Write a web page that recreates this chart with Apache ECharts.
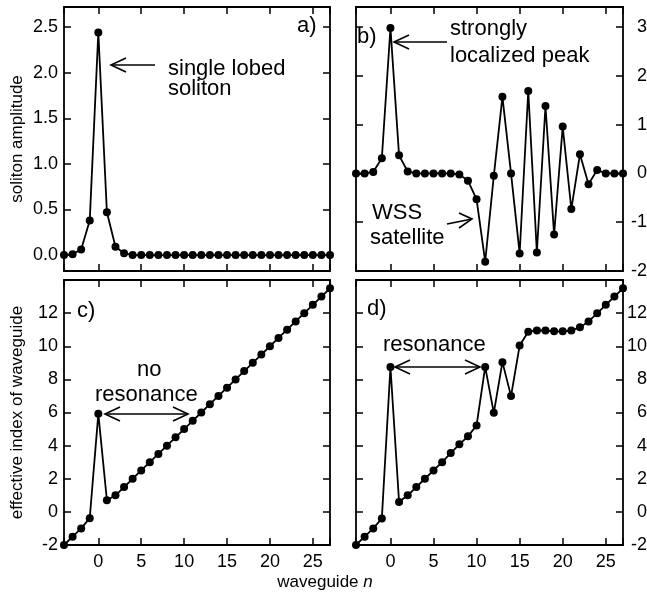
<!DOCTYPE html>
<html>
<head>
<meta charset="utf-8">
<script src="https://cdn.jsdelivr.net/npm/echarts@6/dist/echarts.min.js"></script>
<style>
  html, body { margin: 0; padding: 0; background: #fff; }
  #main { width: 647px; height: 592px; }
</style>
</head>
<body>
<div id="main"></div>
<script>
// waveguide number n
const waveguide = [-4, -3, -2, -1, 0, 1, 2, 3, 4, 5, 6, 7, 8, 9, 10, 11, 12, 13, 14, 15, 16, 17, 18, 19, 20, 21, 22, 23, 24, 25, 26, 27];
// a) soliton amplitude, single lobed
const ampA = [0, 0.01, 0.06, 0.38, 2.44, 0.47, 0.09, 0.02, 0, 0, 0, 0, 0, 0, 0, 0, 0, 0, 0, 0, 0, 0, 0, 0, 0, 0, 0, 0, 0, 0, 0, 0];
// b) soliton amplitude with WSS satellite
const ampB = [0, 0, 0.03, 0.31, 2.98, 0.37, 0.04, 0, 0, 0, 0, 0, -0.02, -0.15, -0.53, -1.81, -0.05, 1.57, 0, -1.64, 1.69, -1.62, 1.38, -1.25, 0.96, -0.73, 0.39, -0.22, 0.07, 0, 0, 0];
// c) effective index, no resonance
const indexC = [-2, -1.5, -1, -0.38, 5.92, 0.7, 1, 1.5, 2, 2.5, 3, 3.5, 4, 4.5, 5, 5.5, 6, 6.5, 7, 7.5, 8, 8.5, 9, 9.5, 10, 10.5, 11, 11.5, 12, 12.5, 13, 13.5];
// d) effective index, resonance
const indexD = [-2, -1.5, -1, -0.4, 8.75, 0.6, 1, 1.5, 2, 2.5, 3, 3.55, 4.08, 4.56, 5.22, 8.75, 5.98, 9.04, 6.99, 10.04, 10.88, 10.95, 10.95, 10.9, 10.9, 10.95, 11.14, 11.5, 11.99, 12.5, 13, 13.5];

const xTickLabels = [0, 5, 10, 15, 20, 25];
const ampTickLabels = [0, 0.5, 1, 1.5, 2, 2.5];
const ampBTickLabels = [-2, -1, 0, 1, 2, 3];
const indexTickLabels = [-2, 0, 2, 4, 6, 8, 10, 12];

const FONT = "'Liberation Sans', Arial, Helvetica, sans-serif";

function pairs(ys) {
  return waveguide.map((n, i) => [n, ys[i]]);
}

const frame = {
  axisLine: { onZero: false, lineStyle: { color: '#000', width: 1.8 } },
  axisTick: { inside: true, length: 7, lineStyle: { color: '#000', width: 1.5 } },
  splitLine: { show: false }
};

function xAxis(gi, pos, labels) {
  return Object.assign({
    type: 'value', gridIndex: gi, position: pos,
    min: -4, max: 27, minInterval: 5, maxInterval: 5,
    axisLabel: {
      show: !!labels, margin: 8, color: '#000', fontSize: 18, fontFamily: FONT,
      formatter: v => (labels && labels.indexOf(v) >= 0) ? String(v) : ''
    }
  }, frame);
}

function yAxis(gi, pos, range, labels, fmt, extra) {
  return Object.assign({
    type: 'value', gridIndex: gi, position: pos,
    min: range[0], max: range[1],
    axisLabel: {
      show: !!labels, color: '#000', fontSize: 18, fontFamily: FONT,
      margin: pos === 'left' ? 6 : 24, align: 'right',
      formatter: v => (labels && labels.some(t => Math.abs(t - v) < 1e-9)) ? fmt(v) : ''
    }
  }, frame, extra || {});
}

const ampRange = [-0.175, 2.72];
const ampBRange = [-2, 3.41];
const idxRange = [-2, 14];

const nameStyle = { color: '#000', fontSize: 17, fontFamily: FONT };

function line(xi, yi, ys) {
  return {
    type: 'line', xAxisIndex: xi, yAxisIndex: yi, data: pairs(ys),
    symbol: 'circle', symbolSize: 8, clip: false,
    itemStyle: { color: '#000' },
    lineStyle: { color: '#000', width: 1.8 },
    animation: false
  };
}

function txt(x, y, s) {
  return { type: 'text', x: x, y: y, style: { text: s, fill: '#000', font: '22px ' + FONT, align: 'left', verticalAlign: 'middle' } };
}
function arrow(pts) {
  return { type: 'polyline', shape: { points: pts }, style: { stroke: '#000', lineWidth: 1.6, fill: null } };
}

const option = {
  backgroundColor: '#fff',
  animation: false,
  grid: [
    { left: 64, top: 7, width: 266, height: 264, containLabel: false, outerBoundsMode: 'none' },
    { left: 356, top: 7, width: 267, height: 264, containLabel: false, outerBoundsMode: 'none' },
    { left: 64, top: 280, width: 266, height: 265, containLabel: false, outerBoundsMode: 'none' },
    { left: 356, top: 280, width: 267, height: 265, containLabel: false, outerBoundsMode: 'none' }
  ],
  xAxis: [
    xAxis(0, 'bottom', null), xAxis(0, 'top', null),
    xAxis(1, 'bottom', null), xAxis(1, 'top', null),
    xAxis(2, 'bottom', xTickLabels), xAxis(2, 'top', null),
    xAxis(3, 'bottom', xTickLabels), xAxis(3, 'top', null)
  ],
  yAxis: [
    yAxis(0, 'left', ampRange, ampTickLabels, v => v.toFixed(1), {
      minInterval: 0.5, maxInterval: 0.5,
      name: 'soliton amplitude', nameLocation: 'middle', nameGap: 38, nameTextStyle: nameStyle
    }),
    yAxis(0, 'right', ampRange, null, String, { minInterval: 0.5, maxInterval: 0.5 }),
    yAxis(1, 'left', ampBRange, null, String, { interval: 1 }),
    yAxis(1, 'right', ampBRange, ampBTickLabels, String, { interval: 1 }),
    yAxis(2, 'left', idxRange, indexTickLabels, String, {
      interval: 2,
      name: 'effective index of waveguide', nameLocation: 'middle', nameGap: 38, nameTextStyle: nameStyle
    }),
    yAxis(2, 'right', idxRange, null, String, { interval: 2 }),
    yAxis(3, 'left', idxRange, null, String, { interval: 2 }),
    yAxis(3, 'right', idxRange, indexTickLabels, String, { interval: 2 })
  ],
  series: [
    line(0, 0, ampA),
    line(2, 3, ampB),
    line(4, 4, indexC),
    line(6, 7, indexD)
  ],
  graphic: [
    txt(297, 26, 'a)'),
    txt(168, 69, 'single lobed'),
    txt(168, 89, 'soliton'),
    arrow([[155, 65], [111, 65]]),
    arrow([[126, 58], [111, 65], [126, 72]]),

    txt(357, 37, 'b)'),
    txt(450, 29, 'strongly'),
    txt(450, 56, 'localized peak'),
    arrow([[447, 42], [394, 42]]),
    arrow([[409, 35], [394, 42], [409, 49]]),
    txt(372, 213, 'WSS'),
    txt(370, 238, 'satellite'),
    arrow([[447, 224], [472, 219]]),
    arrow([[459, 213], [472, 219], [459, 228]]),

    txt(77, 311, 'c)'),
    txt(137, 370, 'no'),
    txt(95, 395, 'resonance'),
    arrow([[105, 414], [188, 414]]),
    arrow([[120, 407], [105, 414], [120, 421]]),
    arrow([[173, 407], [188, 414], [173, 421]]),

    txt(367, 309, 'd)'),
    txt(383, 345, 'resonance'),
    arrow([[395, 367], [480, 367]]),
    arrow([[410, 360], [395, 367], [410, 374]]),
    arrow([[465, 360], [480, 367], [465, 374]]),

    {
      type: 'text', x: 325, y: 582,
      style: {
        text: '{a|waveguide }{b|n}', align: 'center', verticalAlign: 'middle',
        rich: {
          a: { fontSize: 17, fontFamily: FONT, fill: '#000', color: '#000' },
          b: { fontSize: 17, fontFamily: FONT, fontStyle: 'italic', fill: '#000', color: '#000' }
        }
      }
    }
  ]
};

const chart = echarts.init(document.getElementById('main'), null, { renderer: 'canvas' });
chart.setOption(option);
</script>
</body>
</html>
